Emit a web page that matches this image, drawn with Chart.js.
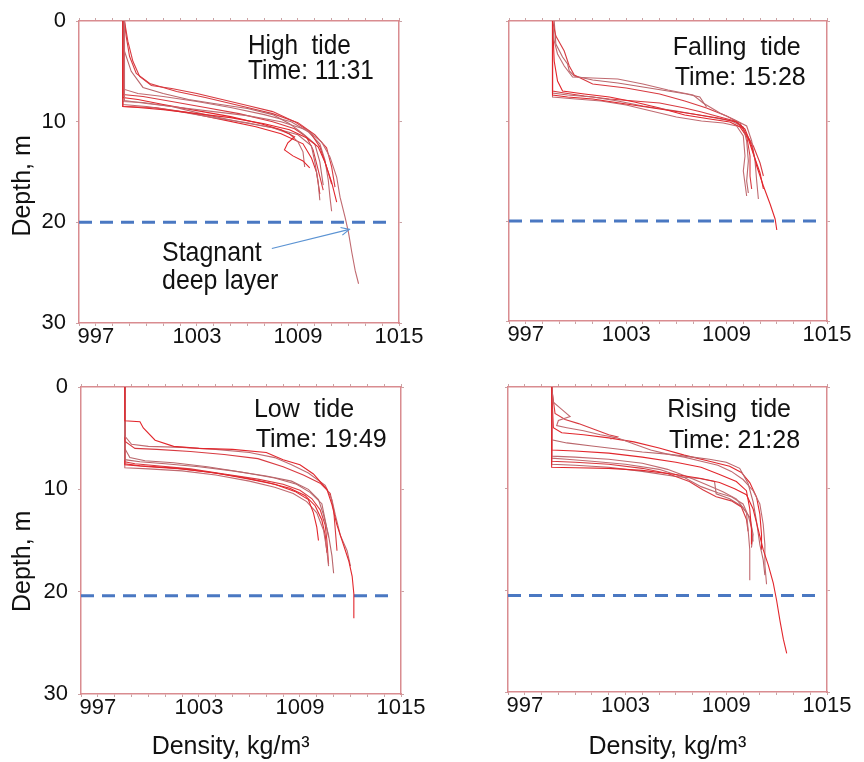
<!DOCTYPE html>
<html>
<head>
<meta charset="utf-8">
<script src="https://cdn.jsdelivr.net/npm/chart.js@4.4.1/dist/chart.umd.min.js"></script>
<style>
    html, body { margin: 0; padding: 0; background: #fff; }
    #wrap { position: relative; width: 864px; height: 762px; overflow: hidden; }
    canvas { position: absolute; }
</style>
</head>
<body>
<div id="wrap">
    <canvas id="highTide" width="430" height="380" style="left:0;top:0"></canvas>
    <canvas id="fallingTide" width="434" height="380" style="left:430px;top:0"></canvas>
    <canvas id="lowTide" width="430" height="396" style="left:0;top:366px"></canvas>
    <canvas id="risingTide" width="434" height="396" style="left:430px;top:366px"></canvas>
</div>
<script>
// axis ranges and labels
const densityRange = [996, 1015];
const densityLabels = [997, 1003, 1009, 1015];
const depthRange = [0, 30];
const depthLabels = [0, 10, 20, 30];

const panelNames = ['High  tide', 'Falling  tide', 'Low  tide', 'Rising  tide'];
const panelTimes = ['Time: 11:31', 'Time: 15:28', 'Time: 19:49', 'Time: 21:28'];

// depth of the dashed "stagnant deep layer" line, and where it stops
const deepLayerDepth = [20.0, 20.0, 20.4, 20.5];
const deepLayerEnd = 1014.5;

// arrow for the "Stagnant deep layer" note (density, depth)
const arrowFrom = [1007.45, 22.6];
const arrowTo = [1012.05, 20.7];

// CTD profiles: [density kg/m3, depth m]
const highTideProfiles = [
    [[998.6,0],[998.6,8.5],[999.5,8.6],[1001,8.8],[1003,9.2],[1005,9.6],[1007,10.2],[1008.5,10.8],[1009.5,11.6],[1010.2,12.5],[1010.6,14],[1011,16],[1011.3,18]],
    [[998.7,0],[998.7,7.9],[1000,8.2],[1002,8.6],[1004,9.0],[1006,9.4],[1008,10],[1009.5,10.8],[1010.4,12],[1010.9,13.5],[1011.3,15.5],[1011.5,17.5],[1011.8,19.5],[1012,21],[1012.2,23],[1012.4,24.8],[1012.6,26.1]],
    [[998.7,0],[998.9,2],[999.2,4],[999.6,5.5],[1000.3,6.4],[1001.5,6.7],[1003,7.2],[1004.5,7.8],[1006,8.4],[1007.5,9],[1008.8,10],[1009.7,11],[1010.3,12.5],[1010.7,14.5],[1011,16.2]],
    [[998.6,0],[998.7,3],[999.1,5],[999.8,6.6],[1001,7.2],[1002.5,7.8],[1004,8.2],[1006,8.7],[1007.5,9.3],[1008.5,10.2],[1009.3,11.2],[1010,12.2],[1010.3,14],[1010.5,16.3]],
    [[998.6,0],[998.6,7.6],[999.5,7.8],[1001,8.3],[1003,8.9],[1005,9.5],[1006.8,10.2],[1008,10.8],[1008.8,11.5],[1008.4,12.1],[1008.2,12.8],[1008.7,13.4],[1009.3,13.9],[1009.7,14.6]],
    [[998.6,0],[998.6,8.3],[1000,8.5],[1002,9],[1004,9.6],[1006,10.1],[1007.5,10.6],[1008.5,11.2],[1009,12],[1009.3,13],[1009.4,14.5]],
    [[998.7,0],[998.8,1.5],[999,3.5],[999.4,5.2],[1000.2,6.2],[1001.8,7],[1003.5,7.6],[1005.5,8.4],[1007.5,9.2],[1009,10.1],[1010,11.3],[1010.7,12.6],[1011,14.5],[1011.2,16.5]],
    [[998.6,0],[998.6,8.0],[999.8,8.1],[1001.5,8.5],[1003.5,9.3],[1005.5,10],[1007.5,10.6],[1009,11.3],[1009.8,12.4],[1010,14],[1010.2,16],[1010.3,17.8]],
    [[998.6,0],[998.6,8.5],[1000.5,8.6],[1002.5,9.1],[1004.5,9.8],[1006.5,10.5],[1008,11.2],[1009.3,12.2],[1009.8,13.6],[1010.1,15],[1010.3,17.2]],
    [[998.7,0],[998.7,6.8],[999.5,7.2],[1001,7.5],[1003,8],[1005,8.6],[1007,9.3],[1008.6,10],[1009.6,11],[1010.3,12.2],[1010.6,13.8],[1010.8,15.8],[1010.9,17.5],[1011,18.9]],
    [[998.6,0],[998.6,7.3],[999.8,7.5],[1001.5,8.0],[1003.5,8.6],[1005.5,9.2],[1007.5,10],[1008.8,10.7],[1009.5,11.5],[1009.9,12.8],[1010.2,14.8],[1010.5,16.8]]
];

const fallingTideProfiles = [
    [[998.6,0],[998.6,7.4],[999.5,7.6],[1001,7.8],[1003,8.3],[1005,8.8],[1007,9.3],[1008.5,9.7],[1009.6,10.1],[1010.1,10.8],[1010.5,12.5],[1010.8,14.5],[1011.2,16.5],[1011.6,18.3],[1011.9,19.8],[1012,20.9]],
    [[998.6,0],[998.7,2],[998.9,3.3],[999.3,4.5],[999.8,5.6],[1001,5.7],[1002.5,5.8],[1004,6.3],[1005.5,6.9],[1007,7.4],[1007.6,8.2],[1008.6,9.2],[1009.5,9.9],[1010.2,10.5],[1010.5,12],[1010.7,14],[1010.8,16],[1010.9,17.8]],
    [[998.6,0],[998.8,1.5],[999.3,3],[999.6,4.5],[999.9,5.4],[1001,6.3],[1003,6.7],[1005,7.3],[1006.5,8],[1007.8,8.7],[1009,9.5],[1009.8,10.2],[1010.2,11.5],[1010.4,13.5],[1010.4,15.5],[1010.5,16.8]],
    [[998.6,0],[998.6,7.2],[999.5,7.4],[1001,7.6],[1002.5,8],[1004,8.5],[1006,9],[1008,9.6],[1009.3,10],[1010,10.6],[1010.2,12],[1010.3,14],[1010.2,16],[1010.3,17.2]],
    [[998.6,0],[998.7,4],[998.9,6],[999.2,7],[1000.5,7.3],[1002,7.6],[1003.5,8.1],[1005,8.7],[1006.5,9.4],[1008,9.8],[1009.2,10.1],[1009.8,10.6],[1010.3,11.8],[1010.6,13.3],[1011,15.2],[1011.2,16.8]],
    [[998.6,0],[998.6,7.6],[1000,7.8],[1001.5,8],[1003,8.4],[1004.5,9],[1006,9.6],[1007.5,10],[1008.8,10.2],[1009.6,10.5],[1010,11.5],[1010.1,13.5],[1010,15],[1010.2,17.5]],
    [[998.6,0],[998.6,7],[999.3,7.2],[1000.5,7.5],[1002,7.8],[1003.5,8],[1005,8.2],[1006.5,8.7],[1007.5,9.1],[1008.6,9.6],[1009.5,10],[1010,10.8],[1010.6,12.5],[1011,14.2],[1011.2,15.5]],
    [[998.7,0],[998.8,2.3],[999.2,3.6],[999.5,4.3],[999.6,5],[999.9,5.5],[1001,5.9],[1002.5,6.2],[1004,6.6],[1005.5,7],[1006.6,7.3],[1007.4,7.6],[1007.8,8.6]]
];

const lowTideProfiles = [
    [[998.6,0],[998.6,3.3],[999.5,3.4],[999.7,4],[1000.4,5.2],[1001.5,5.8],[1003,6.0],[1005,6.1],[1007,6.4],[1008,7.1],[1009,7.6],[1009.8,8.5],[1010.6,10],[1010.9,11.5],[1011.2,13.5],[1011.6,15.5],[1011.9,17],[1012.1,18.5],[1012.2,20.2],[1012.2,22.6]],
    [[998.6,0],[998.6,4.8],[999,5.6],[1000,5.8],[1002,5.9],[1004,6.1],[1006,6.4],[1007.5,6.9],[1008.5,7.6],[1009.5,8.4],[1010.5,9.6],[1010.9,11],[1011.1,12.5],[1011.4,14.5],[1011.8,16],[1012.0,17.5]],
    [[998.6,0],[998.6,5.3],[999.2,6.0],[1000.5,6.1],[1002.5,6.3],[1004.5,6.6],[1006.5,7.0],[1008,7.8],[1009.2,8.6],[1010.2,9.4],[1010.8,10.4],[1011,12],[1011.1,14],[1011.2,16]],
    [[998.6,0],[998.6,7.1],[999.5,7.3],[1001,7.5],[1003,7.8],[1005,8.2],[1007,8.7],[1008.5,9.2],[1009.5,10],[1010.1,11],[1010.4,12.5],[1010.7,14.5],[1010.9,16.5],[1011,18.2]],
    [[998.6,0],[998.6,7.6],[1000,7.8],[1002,8.0],[1004,8.4],[1006,9],[1007.5,9.5],[1008.7,10.2],[1009.5,11],[1009.8,12.3],[1010,13.7],[1010.1,15]],
    [[998.6,0],[998.6,7.9],[1000,8.0],[1002,8.2],[1004,8.6],[1006,9.2],[1007.5,9.8],[1008.6,10.4],[1009.4,11.2],[1010,12.3],[1010.4,14],[1010.6,16],[1010.7,17.5]],
    [[998.6,0],[998.6,7.3],[999.2,7.5],[1000.5,7.7],[1002.5,8],[1004.5,8.5],[1006.5,9],[1008,9.5],[1009,10.1],[1009.7,10.9],[1010.2,12],[1010.5,13.5],[1010.6,15],[1010.7,17.3]],
    [[998.6,0],[998.6,6.0],[998.9,6.9],[999.8,7.2],[1001.5,7.4],[1003.5,7.8],[1005.5,8.3],[1007.5,8.9],[1008.8,9.5],[1009.6,10.3],[1010.3,11.4],[1010.5,13],[1010.7,14.7]],
    [[998.6,0],[998.6,7.5],[999.5,7.7],[1001.5,7.9],[1003.5,8.3],[1005.5,8.8],[1007,9.3],[1008.4,9.9],[1009.3,10.6],[1009.9,11.6],[1010.3,13],[1010.5,14.5],[1010.6,16.2]]
];

const risingTideProfiles = [
    [[998.6,0],[998.6,7.9],[1000,7.95],[1002,8.0],[1004,8.2],[1006,8.6],[1007.5,9.0],[1008.6,9.4],[1009.5,10],[1010.2,10.6],[1010.6,12],[1010.9,14],[1011.2,16],[1011.5,17.5],[1011.8,19.3],[1012.0,21],[1012.2,23],[1012.4,24.8],[1012.6,26.2]],
    [[998.6,0],[998.7,1.5],[999.2,2.2],[999.7,2.9],[999.0,3.3],[998.9,3.8],[999.5,4.0],[1000.5,4.3],[1001.5,4.7],[1002.5,5.0],[1003.5,5.6],[1004.5,6.2],[1005.5,6.6],[1006.5,6.9],[1007.5,7.3],[1008.5,7.7],[1009.3,8.3],[1010,9.1],[1010.6,10.2],[1011,11.5],[1011.2,13.5],[1011.3,15.5],[1011.3,17.5],[1011.4,19.4]],
    [[998.6,0],[998.8,2.6],[999.4,3.2],[1000.2,3.6],[1001.2,4.2],[1002.0,4.7],[1002.5,4.9],[1002.1,5.1]],
    [[998.6,0],[998.6,5.2],[999.5,5.5],[1001,5.8],[1002.5,6.1],[1004,6.4],[1005.5,6.6],[1007,6.9],[1008,7.1],[1009,7.4],[1009.8,8],[1010.3,9.5],[1010.6,11.3],[1010.8,13.2],[1011,15.5],[1011.2,17],[1011.3,18.5]],
    [[998.6,0],[998.6,6.2],[1000,6.3],[1002,6.5],[1004,6.9],[1006,7.4],[1007.5,7.9],[1008.6,8.6],[1009.6,9.3],[1010.2,10.2],[1010.4,12],[1010.5,14],[1010.5,15.5]],
    [[998.6,0],[998.6,6.8],[1000,6.9],[1002,7.1],[1004,7.5],[1005.5,8.1],[1006.8,8.9],[1007.8,9.6],[1008.8,10.3],[1009.6,11],[1010.2,12.3],[1010.3,14],[1010.4,16],[1010.4,19.0]],
    [[998.6,0],[998.6,7.3],[1000,7.4],[1002,7.6],[1004,8],[1005.5,8.5],[1006.8,9.3],[1007.6,10.1],[1008.4,10.8],[1009.3,11.2],[1009.9,11.8],[1010.2,13],[1010.3,14.2]],
    [[998.6,0],[998.6,7.6],[1000,7.7],[1002,7.9],[1004,8.3],[1006,8.8],[1007.4,9.0],[1008.3,9.3],[1008.4,10.5],[1009.2,11],[1009.9,11.7],[1010.4,12.8],[1010.6,14.5],[1010.5,15.8]],
    [[998.6,0],[998.7,4],[999.2,4.5],[1000.5,4.7],[1002,5.0],[1003.5,5.4],[1005,6.0],[1006.5,6.7],[1008,7.3],[1009.2,7.8],[1009.9,8.4],[1010.4,9.4],[1010.8,10.8],[1011,12.5],[1011.1,14.5],[1011.1,16]],
    [[998.6,0],[998.6,7.0],[999.5,7.1],[1001,7.3],[1003,7.6],[1005,8.1],[1006.5,8.9],[1007.5,9.8],[1008.5,10.4],[1009.3,10.8],[1010,11.5],[1010.3,12.6],[1010.5,13.8],[1010.6,15.2]]
];

// styling
const lineColors = ['#e2262c', '#c06a70', '#d83a40', '#b9666b'];
const frameColor = '#d98c90';
const tickColor = '#c9a3a5';
const fontFamily = '"Liberation Sans", Arial, sans-serif';
Chart.defaults.font.family = fontFamily;
Chart.defaults.color = '#111';

// draws the tide name / time notes and any extra notes at data positions
const panelText = {
    id: 'panelText',
    afterDatasetsDraw(chart, args, opts) {
        const ctx = chart.ctx;
        const xs = chart.scales.x, ys = chart.scales.y;
        (opts.items || []).forEach(item => {
            ctx.save();
            ctx.font = item.size + 'px ' + fontFamily;
            ctx.fillStyle = '#111';
            ctx.textBaseline = 'alphabetic';
            ctx.translate(xs.getPixelForValue(item.x), ys.getPixelForValue(item.y));
            ctx.scale(item.squeeze || 1, 1);
            ctx.fillText(item.text, 0, 0);
            ctx.restore();
        });
    }
};

// open arrow head on the dataset flagged as arrow
const arrowHead = {
    id: 'arrowHead',
    afterDatasetsDraw(chart) {
        chart.data.datasets.forEach((ds, i) => {
            if (!ds.isArrow) return;
            const pts = chart.getDatasetMeta(i).data;
            const a = pts[pts.length - 2], b = pts[pts.length - 1];
            const ang = Math.atan2(b.y - a.y, b.x - a.x);
            const ctx = chart.ctx;
            ctx.save();
            ctx.strokeStyle = ds.borderColor;
            ctx.lineWidth = 1.2;
            ctx.beginPath();
            ctx.moveTo(b.x - 9 * Math.cos(ang - 0.45), b.y - 9 * Math.sin(ang - 0.45));
            ctx.lineTo(b.x, b.y);
            ctx.lineTo(b.x - 9 * Math.cos(ang + 0.45), b.y - 9 * Math.sin(ang + 0.45));
            ctx.stroke();
            ctx.restore();
        });
    }
};

function frameScale(position, range, step, showLabels, size, extra) {
    const horizontal = position === 'top' || position === 'bottom';
    const labelList = horizontal ? densityLabels : depthLabels;
    return Object.assign({
        type: 'linear',
        position: position,
        min: range[0],
        max: range[1],
        reverse: !horizontal,
        ticks: {
            stepSize: step,
            autoSkip: false,
            maxRotation: 0,
            padding: horizontal ? 0 : 10,
            font: { size: 22, lineHeight: 1 },
            color: '#111',
            callback: v => (showLabels && labelList.includes(v)) ? String(v) : ''
        },
        grid: { drawOnChartArea: false, drawTicks: true, tickLength: 3, tickColor: tickColor },
        border: { display: true, color: frameColor, width: 1.5 },
        afterFit: s => { if (horizontal) s.height = size; else s.width = size; }
    }, extra || {});
}

function makePanel(id, p) {
    const datasets = p.profiles.map((prof, i) => ({
        data: prof.map(([d, z]) => ({ x: d, y: z })),
        borderColor: lineColors[i % lineColors.length],
        borderWidth: 1.1,
        pointRadius: 0,
        showLine: true,
        tension: 0
    }));
    datasets.push({
        data: [{ x: densityRange[0], y: p.deep }, { x: deepLayerEnd, y: p.deep }],
        borderColor: '#4a78c2',
        borderWidth: 3,
        borderDash: [13, 8],
        pointRadius: 0,
        showLine: true
    });
    if (p.arrow) {
        datasets.push({
            data: [{ x: arrowFrom[0], y: arrowFrom[1] }, { x: arrowTo[0], y: arrowTo[1] }],
            borderColor: '#5b93d3',
            borderWidth: 1.2,
            pointRadius: 0,
            showLine: true,
            isArrow: true
        });
    }

    const titleFont = { size: 25, lineHeight: 1.2 };
    new Chart(document.getElementById(id), {
        type: 'scatter',
        data: { datasets: datasets },
        options: {
            responsive: false,
            animation: false,
            layout: { padding: 0 },
            plugins: {
                legend: { display: false },
                tooltip: { enabled: false },
                panelText: { items: p.notes }
            },
            scales: {
                x: frameScale('bottom', densityRange, 1, true, p.bottom, {
                    title: p.xTitle ? { display: true, text: p.xTitle, font: titleFont, color: '#111', padding: { top: 0, bottom: 0 } } : { display: false }
                }),
                x2: frameScale('top', densityRange, 1, false, p.top),
                y: frameScale('left', depthRange, 10, p.yLabels, p.left, {
                    title: p.yTitle ? { display: true, text: p.yTitle, font: titleFont, color: '#111', padding: { top: 8, bottom: 0 } } : { display: false }
                }),
                y2: frameScale('right', depthRange, 10, false, p.right)
            }
        },
        plugins: [panelText, arrowHead]
    });
}

makePanel('highTide', {
    profiles: highTideProfiles, deep: deepLayerDepth[0], arrow: true,
    left: 79, right: 31, top: 16, bottom: 57,
    yLabels: true, yTitle: 'Depth, m    ',
    notes: [
        { text: panelNames[0], x: 1006.03, y: 3.23, size: 28, squeeze: 0.87 },
        { text: panelTimes[0], x: 1006.03, y: 5.77, size: 28, squeeze: 0.87 },
        { text: 'Stagnant', x: 1000.93, y: 23.85, size: 28, squeeze: 0.89 },
        { text: 'deep layer', x: 1000.93, y: 26.59, size: 28, squeeze: 0.89 }
    ]
});

makePanel('fallingTide', {
    profiles: fallingTideProfiles, deep: deepLayerDepth[1],
    left: 79, right: 37, top: 15, bottom: 59,
    yLabels: false,
    notes: [
        { text: panelNames[1], x: 1005.79, y: 3.36, size: 25 },
        { text: panelTimes[1], x: 1005.9, y: 6.37, size: 25 }
    ]
});

makePanel('lowTide', {
    profiles: lowTideProfiles, deep: deepLayerDepth[2],
    left: 81, right: 29, top: 20, bottom: 68,
    yLabels: true, yTitle: 'Depth, m      ', xTitle: 'Density, kg/m\u00b3   ',
    notes: [
        { text: panelNames[2], x: 1006.27, y: 2.92, size: 25 },
        { text: panelTimes[2], x: 1006.37, y: 5.91, size: 25 }
    ]
});

makePanel('risingTide', {
    profiles: risingTideProfiles, deep: deepLayerDepth[3],
    left: 78, right: 37, top: 20, bottom: 70,
    yLabels: false, xTitle: 'Density, kg/m\u00b3',
    notes: [
        { text: panelNames[3], x: 1005.49, y: 2.97, size: 25 },
        { text: panelTimes[3], x: 1005.59, y: 5.98, size: 25 }
    ]
});
</script>
</body>
</html>
